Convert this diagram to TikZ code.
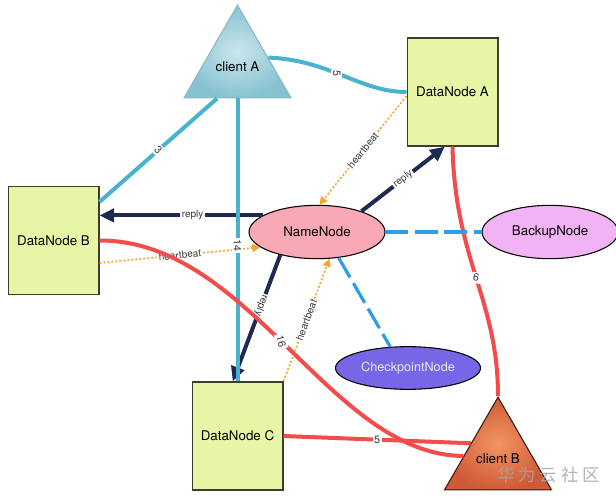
\documentclass[tikz,border=0pt]{standalone}
\usepackage{fontspec}
\setmainfont{TeX Gyre Heros}
\newfontfamily\cjk{Noto Sans CJK SC}
\usetikzlibrary{positioning,shapes.geometric,arrows.meta}

\definecolor{dnfill}{HTML}{E7F6A4}
\definecolor{dnline}{HTML}{3C3C30}
\definecolor{nnfill}{HTML}{F8A9B4}
\definecolor{bkfill}{HTML}{F2B3F5}
\definecolor{ckfill}{HTML}{7567E6}
\definecolor{cktext}{HTML}{E8E8FF}
\definecolor{cAin}{HTML}{CBE6EC}
\definecolor{cAout}{HTML}{86C2D2}
\definecolor{cAline}{HTML}{8AB8C8}
\definecolor{cBin}{HTML}{F29462}
\definecolor{cBout}{HTML}{CF5B36}
\definecolor{cBline}{HTML}{3A1A10}
\definecolor{copyblue}{HTML}{48B2CF}
\definecolor{replynavy}{HTML}{1E2A52}
\definecolor{hbeatorange}{HTML}{F4A72A}
\definecolor{replred}{HTML}{F44B4B}
\definecolor{syncblue}{HTML}{2E9DE6}
\definecolor{lbltext}{HTML}{3A3A3A}

\begin{document}
\begin{tikzpicture}[
        x=0.75pt, y=-0.75pt,
        datanode/.style={rectangle, draw=dnline, line width=1pt, fill=dnfill, minimum width=68pt, minimum height=81pt, align=center},
        client/.style={regular polygon, regular polygon sides=3, minimum size=89pt, inner sep=0pt, line width=0.8pt},
        master/.style={ellipse, draw, line width=0.8pt, minimum width=102pt, minimum height=40pt, align=center},
        copyline/.style={line width=3pt, copyblue},
        reply/.style={line width=3pt, replynavy, -{Triangle[length=11pt,width=10pt]}},
        hbeat/.style={line width=1.2pt, hbeatorange, dash pattern=on 1.5pt off 1.5pt, -{Triangle[length=6pt,width=6pt]}},
        replline/.style={line width=3pt, replred},
        syncline/.style={line width=2.4pt, syncblue, dash pattern=on 17pt off 5pt},
        lbl/.style={fill=white, inner sep=1pt, text=lbltext, font=\fontsize{7.5}{9}\selectfont},
        num/.style={fill=white, inner sep=1.2pt, text=lbltext, font=\fontsize{8}{9}\selectfont}
    ]
        \fill[white] (0,0) rectangle (616,500);
        \useasboundingbox (0,0) rectangle (616,500);

        % Nodes
        \node[client, draw=cAline, inner color=cAin, outer color=cAout] (clientA) at (237.5,67) {\raisebox{-3pt}{client A}};
        \node[datanode] (dnA) at (452.5,92) {DataNode A};
        \node[datanode] (dnB) at (53.5,240.5) {DataNode B};
        \node[datanode] (dnC) at (237.5,436) {DataNode C};
        \node[master, fill=nnfill] (namenode) at (317,232) {NameNode};
        \node[master, fill=bkfill, right=72pt of namenode] (backup) {BackupNode};
        \node[master, fill=ckfill, text=cktext, minimum height=32pt, font=\fontsize{9.5}{11}\selectfont] (checkpoint) at (408,368) {CheckpointNode};
        \node[client, draw=cBline, inner color=cBin, outer color=cBout] (clientB) at (498,459) {\raisebox{-2pt}{client B}};

        % Heartbeats
        \draw[hbeat] (dnA.185) -- node[lbl, sloped] {heartbeat} (namenode.85);
        \draw[hbeat] (dnB.-26) -- node[lbl, sloped] {heartbeat} (namenode.195);
        \draw[hbeat] (dnC.north east) -- node[lbl, sloped] {heartbeat} (namenode.-65);

        % Replies
        \draw[reply] (namenode.25) -- node[lbl, sloped] {reply} (dnA.262);
        \draw[reply] (namenode.163) -- node[lbl, pos=0.43] {reply} (namenode.163 -| dnB.east);
        \draw[reply] (namenode.212) -- node[lbl, sloped, allow upside down, pos=0.4] {reply} (dnC.95);

        % Client A writes
        \draw[copyline] (clientA.17) .. controls (330,60) and (360,92) .. node[num, pos=0.45, rotate=-90] {5} (dnA.west);
        \draw[copyline] (clientA.237) -- node[num, rotate=-45] {3} (dnB.40);
        \draw[copyline] (clientA.270) -- node[num, pos=0.52, rotate=-90] {14} (dnC.north);

        % Client B writes
        \draw[replline] (dnA.south) .. controls (455,260) and (498,300) .. node[num, rotate=-10] {6} (clientB.corner 1);
        \draw[replline] (dnB.east) .. controls (250,240) and (330,455) .. node[num, rotate=-75, pos=0.48] {16} (clientB.175);
        \draw[replline] (dnC.east) -- node[num] {5} (clientB.150);

        % Backup and checkpoint
        \draw[syncline] (namenode.east) -- (backup.west);
        \draw[syncline] (namenode.-50) -- (checkpoint.130);

        \node[text=gray!70, opacity=0.85, font=\cjk\fontsize{13}{13}\selectfont] (mark) at (548.5,475) {华\hspace{3pt}为\hspace{3pt}云\hspace{3pt}社\hspace{3pt}区};

    \end{tikzpicture}
\end{document}
